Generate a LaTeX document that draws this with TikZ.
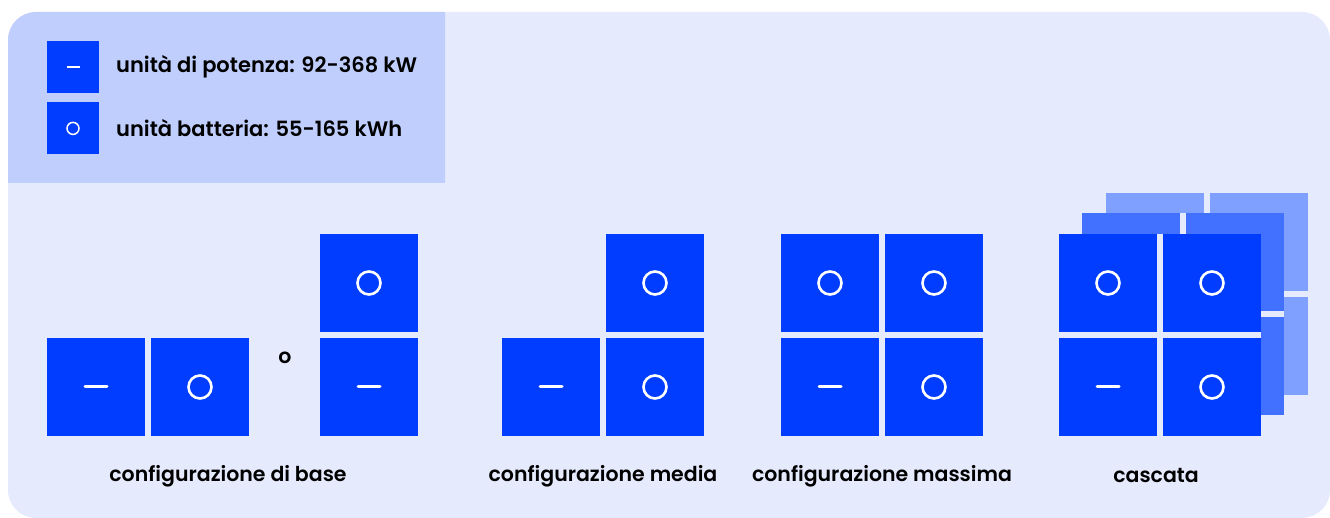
\documentclass[tikz,border=0pt]{standalone}
\usepackage{fontspec}
\setmainfont{Poppins}[UprightFont=* SemiBold, BoldFont=* Bold]
\usetikzlibrary{positioning}
\definecolor{bgpanel}{RGB}{229,234,253}
\definecolor{legpanel}{RGB}{191,206,252}
\definecolor{unitblue}{RGB}{0,61,255}
\definecolor{midblue}{RGB}{66,112,255}
\definecolor{backblue}{RGB}{128,160,255}
\tikzset{node distance=6pt,
  unit/.style={fill=unitblue, minimum size=98pt, inner sep=0pt, outer sep=0pt},
  power/.style={unit, path picture={\draw[white, line width=3pt, line cap=round]
      ([xshift=-11pt]path picture bounding box.center) -- ([xshift=11pt]path picture bounding box.center);}},
  battery/.style={unit, path picture={\draw[white, line width=2.6pt]
      (path picture bounding box.center) circle (11.5pt);}},
  ghost/.style={unit, fill=#1},
  legunit/.style={fill=unitblue, minimum size=52pt, inner sep=0pt},
  legtext/.style={anchor=west, font=\fontsize{21}{23}\selectfont, inner sep=0pt},
  caption/.style={font=\fontsize{20.5}{22}\selectfont, inner sep=0pt}}

\begin{document}
\begin{tikzpicture}[x=1pt, y=1pt]

  \useasboundingbox (0,0) rectangle (1330,518);
  \fill[bgpanel, rounded corners=28pt] (8,0) rectangle (1330,506);
  \fill[legpanel] (445,335) -- (8,335) [rounded corners=28pt] -- (8,506) [sharp corners] -- (445,506) -- cycle;

  % legenda
  \node (lp) [legunit] at (73,451) {};
  \node (lb) [legunit, below=9pt of lp] {};
  \draw[white, line width=1.5pt] ([xshift=-6.5pt]lp.center) -- ([xshift=6.5pt]lp.center);
  \draw[white, line width=1.5pt] (lb.center) circle (6pt);
  \node (lpt) [legtext] at (116,451) {unità di potenza: 92-368 kW};
  \node (lbt) [legtext] at (116,390) {unità batteria: 55-165 kWh};

  % configurazione di base
  \node (b1) [power] at (96,131) {};
  \node (b2) [battery, right=of b1] {};
  \node (or) [caption] at (285,160) {o};
  \node (s2) [power] at (369,131) {};
  \node (s1) [battery, above=of s2] {};

  % configurazione media
  \node (m1) [power] at (551,131) {};
  \node (m2) [battery, right=of m1] {};
  \node (m3) [battery, above=of m2] {};

  % configurazione massima
  \node (x3) [power] at (830,131) {};
  \node (x4) [battery, right=of x3] {};
  \node (x1) [battery, above=of x3] {};
  \node (x2) [battery, above=of x4] {};

  % cascata
  \foreach \dx/\dy/\col in {47/41/backblue, 23/21/midblue, 0/0/unitblue} {
    \fill[bgpanel] (1059+\dx,82+\dy) rectangle (1261+\dx,284+\dy);
    \node (g1) [ghost=\col] at (1108+\dx,131+\dy) {};
    \node (g2) [ghost=\col, right=of g1] {};
    \node (g3) [ghost=\col, above=of g1] {};
    \node (g4) [ghost=\col, above=of g2] {};
  }
  \node (c3) [power] at (1108,131) {};
  \node (c4) [battery, right=of c3] {};
  \node (c1) [battery, above=of c3] {};
  \node (c2) [battery, above=of c4] {};

  % didascalie
  \node (tb) [caption] at (228,42) {configurazione di base};
  \node (tm) [caption] at (603,42) {configurazione media};
  \node (tx) [caption] at (882,42) {configurazione massima};
  \node (tc) [caption] at (1156,42) {cascata};

\end{tikzpicture}
\end{document}
